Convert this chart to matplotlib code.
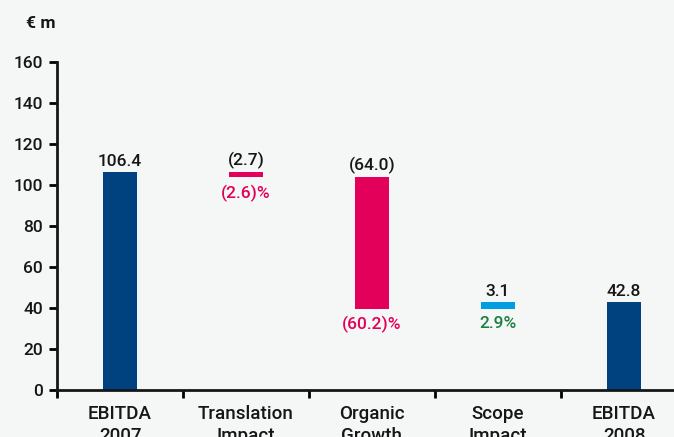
import numpy as np
import matplotlib.pyplot as plt

# EBITDA bridge 2007 -> 2008, in EUR m
categories = ['EBITDA\n2007', 'Translation\nImpact', 'Organic\nGrowth', 'Scope\nImpact', 'EBITDA\n2008']
changes = [106.4, -2.7, -64.0, 3.1, 42.8]
value_labels = ['106.4', '(2.7)', '(64.0)', '3.1', '42.8']
pct_labels = ['', '(2.6)%', '(60.2)%', '2.9%', '']

navy = '#00427f'
pink = '#e2005a'
cyan = '#009ee0'
green = '#1a8040'
bg = '#f4f7f6'
ink = '#161616'

bottoms = []
heights = []
colors = []
running = 0.0
for i, c in enumerate(changes):
    if i == 0 or i == len(changes) - 1:
        bottoms.append(0)
        heights.append(c)
        colors.append(navy)
        running = c
    else:
        new = running + c
        bottoms.append(min(running, new))
        heights.append(abs(c))
        colors.append(pink if c < 0 else cyan)
        running = new

plt.rcParams['font.family'] = ['Roboto', 'DejaVu Sans']
fs = 12.5
fig = plt.figure(figsize=(6.74, 4.37), dpi=100, facecolor=bg)
ax = fig.add_axes([57/674, 47/437, 630/674, 328/437], facecolor=bg)

x = np.arange(len(categories))
ax.bar(x, heights, bottom=bottoms, width=0.27, color=colors)

for i in range(len(categories)):
    top = bottoms[i] + heights[i]
    ax.text(x[i], top + 1.5, value_labels[i], ha='center', va='bottom',
            fontsize=fs, color=ink, fontweight='medium')
    if pct_labels[i]:
        col = green if changes[i] > 0 else pink
        ax.text(x[i], bottoms[i] - 3.5, pct_labels[i], ha='center', va='top',
                fontsize=fs, color=col, fontweight='medium')

ax.set_xlim(-0.5, len(categories) - 0.5)
ax.set_ylim(0, 160)
ax.set_yticks(np.arange(0, 161, 20))
ax.set_xticks(x)
ax.set_xticklabels(categories, linespacing=1.3)
ax.set_xticks(np.arange(-0.5, len(categories), 1), minor=True)
ax.tick_params(axis='x', which='major', length=0, pad=11, labelsize=13.5)
ax.tick_params(axis='x', which='minor', length=6, width=2, direction='out')
ax.tick_params(axis='y', length=6, width=2, labelsize=fs, pad=4)
for lab in ax.get_xticklabels() + ax.get_yticklabels():
    lab.set_fontweight('medium')
    lab.set_color(ink)

for s in ['top', 'right']:
    ax.spines[s].set_visible(False)
for s in ['left', 'bottom']:
    ax.spines[s].set_linewidth(2)
    ax.spines[s].set_color(ink)

fig.text(26/674, 1 - 24/437, '€ m', fontsize=fs, fontweight='bold', va='center', ha='left', color=ink)

fig.savefig('out.png', dpi=100, facecolor=bg)
